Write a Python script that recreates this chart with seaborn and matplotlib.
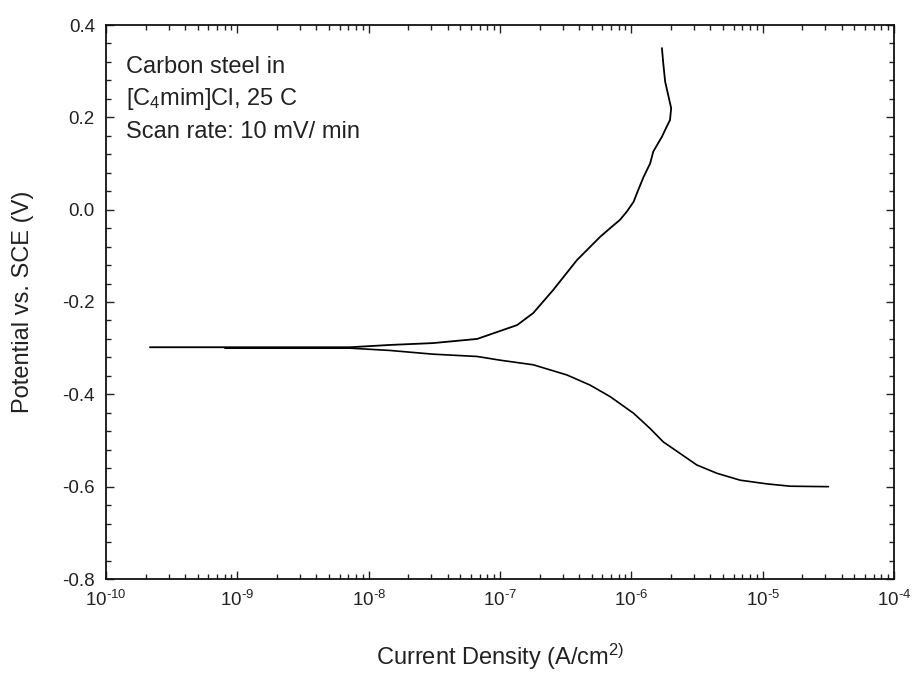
import numpy as np
import pandas as pd
import seaborn as sns
import matplotlib.pyplot as plt
from matplotlib.ticker import MultipleLocator, FormatStrFormatter, FuncFormatter, LogLocator

sns.set_style("ticks")
plt.rcParams['font.family'] = ['Liberation Sans', 'DejaVu Sans']
plt.rcParams['mathtext.fontset'] = 'custom'
plt.rcParams['mathtext.rm'] = 'Liberation Sans'
plt.rcParams['mathtext.it'] = 'Liberation Sans:italic'
plt.rcParams['mathtext.default'] = 'regular'
plt.rcParams['axes.unicode_minus'] = False

# anodic branch (current density A/cm2, potential V vs SCE)
anodic_i = [2.16e-10, 7.2e-9, 1.46e-8, 3.09e-8, 6.7e-8, 1.35e-7, 1.79e-7, 2.54e-7,
            3.86e-7, 5.78e-7, 6.9e-7, 8.2e-7, 9.25e-7, 1.04e-6, 1.13e-6, 1.24e-6,
            1.39e-6, 1.47e-6, 1.71e-6, 1.86e-6, 1.97e-6, 2.01e-6, 1.92e-6, 1.81e-6,
            1.75e-6, 1.71e-6]
anodic_e = [-0.298, -0.298, -0.293, -0.289, -0.280, -0.250, -0.224, -0.174,
            -0.109, -0.059, -0.040, -0.022, -0.004, 0.017, 0.043, 0.071,
            0.100, 0.126, 0.158, 0.180, 0.194, 0.220, 0.245, 0.277,
            0.317, 0.350]

# cathodic branch
cathodic_i = [8.05e-10, 7.2e-9, 1.46e-8, 3.09e-8, 6.7e-8, 1.0e-7, 1.79e-7, 3.23e-7,
              4.85e-7, 6.9e-7, 1.04e-6, 1.39e-6, 1.75e-6, 2.35e-6, 3.15e-6, 4.48e-6,
              6.75e-6, 1.08e-5, 1.62e-5, 3.17e-5]
cathodic_e = [-0.300, -0.300, -0.305, -0.313, -0.318, -0.326, -0.336, -0.358,
              -0.380, -0.405, -0.441, -0.474, -0.503, -0.528, -0.553, -0.571,
              -0.586, -0.594, -0.599, -0.600]

decades = [1e-10, 1e-9, 1e-8, 1e-7, 1e-6, 1e-5, 1e-4]
notes = ["Carbon steel in", "[C$_4$mim]Cl, 25 C", "Scan rate: 10 mV/ min"]

df_a = pd.DataFrame({"i": anodic_i, "E": anodic_e})
df_c = pd.DataFrame({"i": cathodic_i, "E": cathodic_e})

fig = plt.figure(figsize=(9.16, 6.77), dpi=100)
ax = fig.add_axes([106 / 916, 98 / 677, 788 / 916, 554 / 677])

sns.lineplot(data=df_a, x="i", y="E", sort=False, estimator=None, color="black", lw=1.3, ax=ax)
sns.lineplot(data=df_c, x="i", y="E", sort=False, estimator=None, color="black", lw=1.2, ax=ax)

ax.set_xscale("log")
ax.set_xlim(1e-10, 1e-4)
ax.set_ylim(-0.8, 0.4)
ax.set_xticks(decades)
ax.xaxis.set_minor_locator(LogLocator(base=10, subs=np.arange(2, 10)))
ax.xaxis.set_major_formatter(FuncFormatter(
    lambda v, p: "10$^{\\text{-%d}}$" % round(-np.log10(v))))
ax.yaxis.set_major_locator(MultipleLocator(0.2))
ax.yaxis.set_minor_locator(MultipleLocator(0.04))
ax.yaxis.set_major_formatter(FormatStrFormatter("%.1f"))

ax.tick_params(which="both", direction="in", top=True, right=True, width=1, colors="#222222")
ax.tick_params(which="major", length=6, labelsize=13.5)
ax.tick_params(which="minor", length=3.5)
ax.tick_params(axis="x", pad=8)
ax.tick_params(axis="y", pad=8)
for s in ax.spines.values():
    s.set_linewidth(1.3)
    s.set_color("#111111")

ax.set_xlabel("Current Density (A/cm$^{2)}$", fontsize=17, color="#222222", labelpad=23)
ax.set_ylabel("Potential vs. SCE (V)", fontsize=17, color="#222222", labelpad=20)

ys = [0.913, 0.856, 0.796]
for txt, yy in zip(notes, ys):
    ax.text(0.025, yy, txt, transform=ax.transAxes, fontsize=17, va="baseline",
            ha="left", color="#222222")

fig.savefig("out.png", dpi=100)
